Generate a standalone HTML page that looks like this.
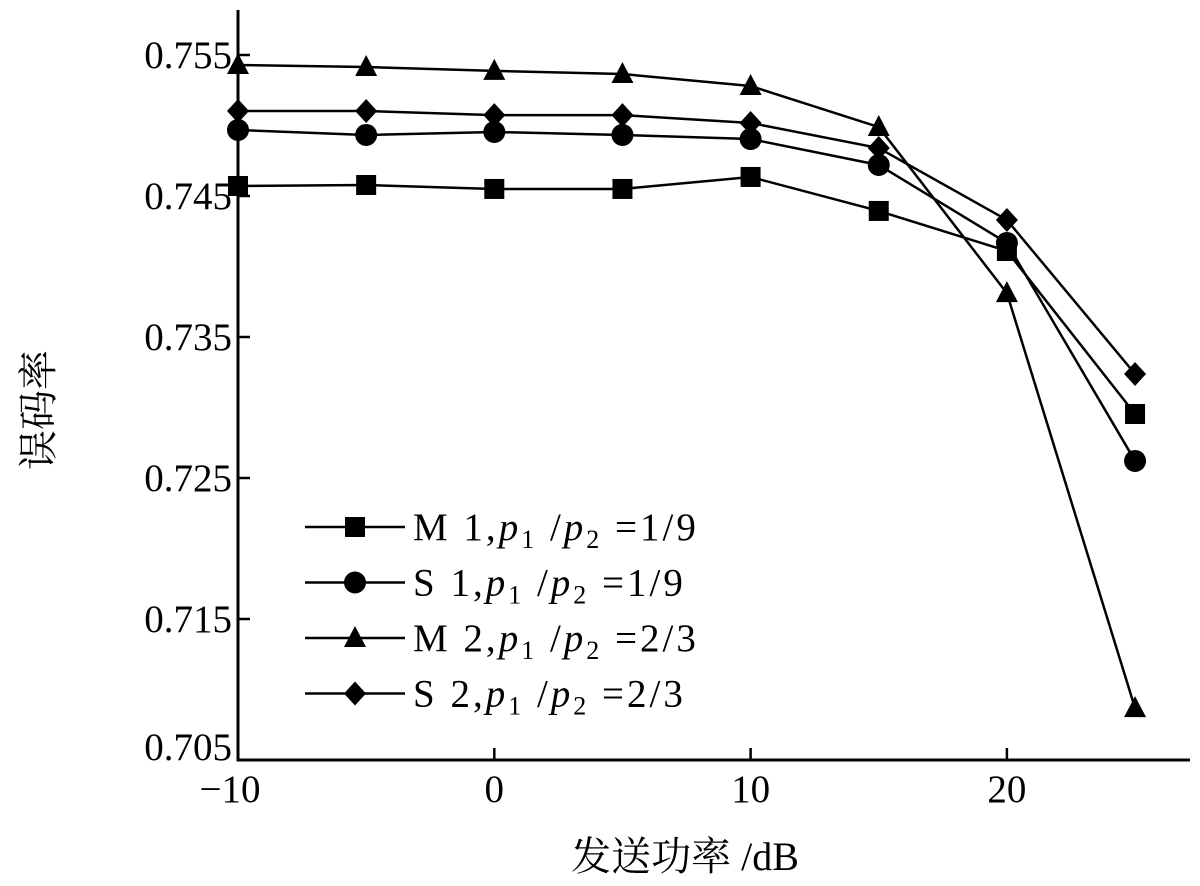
<!DOCTYPE html>
<html><head><meta charset="utf-8"><style>
html,body{margin:0;padding:0;background:#fff;}
svg{display:block;font-family:"Liberation Serif","Noto Serif CJK SC",serif;}
</style></head><body>
<svg id="chart" width="1200" height="886" viewBox="0 0 1200 886">
<g id="axes"></g>
<g id="series"></g>
<g id="legend"></g>
<text x="52" y="410" font-size="40" text-anchor="middle" transform="rotate(-90 52 410)" fill="#000" style="font-family:'Noto Serif CJK SC',serif">误码率</text>
<text x="685" y="870" font-size="40" text-anchor="middle" fill="#000">发送功率 /dB</text>
</svg>
<script>
const xValues=[-10,-5,0,5,10,15,20,25];
const m1=[0.74571,0.74578,0.74550,0.74550,0.74635,0.74394,0.74110,0.72954];
const s1=[0.74968,0.74933,0.74954,0.74933,0.74904,0.74720,0.74167,0.72621];
const m2=[0.75429,0.75415,0.75387,0.75365,0.75280,0.74989,0.73811,0.70868];
const s2=[0.75103,0.75103,0.75074,0.75074,0.75018,0.74840,0.74330,0.73238];
const xTicks=[-10,0,10,20];
const yTicks=[0.705,0.715,0.725,0.735,0.745,0.755];
const seriesNames=["M1","S1","M2","S2"];
const NS="http://www.w3.org/2000/svg";
function X(v){return 238+(v+10)*25.63;}
function Y(v){return 760-(v-0.705)*14100;}
function mk(tag,attrs,parent){const e=document.createElementNS(NS,tag);for(const k in attrs)e.setAttribute(k,attrs[k]);parent.appendChild(e);return e;}
const axes=document.getElementById('axes');
let a=mk('path',{d:'M238 10 V760 H1190',fill:'none',stroke:'#000','stroke-width':3},axes);


yTicks.forEach(t=>{
 const l=mk('line',{x1:238,x2:250,y1:Y(t),y2:Y(t),stroke:'#000','stroke-width':2.5},axes);
 
 
 const tx=mk('text',{x:232,y:Y(t)+(t<0.71?0:13),'font-size':39,'text-anchor':'end'},axes);
 tx.textContent=t.toFixed(3);
 
 
});
xTicks.forEach(t=>{
 const l=mk('line',{x1:X(t),x2:X(t),y1:760,y2:748,stroke:'#000','stroke-width':2.5},axes);
 
 
 const tx=mk('text',{x:X(t)-(t<0?8:0),y:802,'font-size':39,'text-anchor':'middle'},axes);
 tx.textContent=t<0?'\u2212'+Math.abs(t):String(t);
 
 
});
function marker(type,cx,cy,parent){
 let e;
 if(type==='M1')e=mk('rect',{x:cx-10,y:cy-10,width:20,height:20,fill:'#000'},parent);
 else if(type==='S1')e=mk('circle',{cx:cx,cy:cy,r:11,fill:'#000'},parent);
 else if(type==='M2')e=mk('polygon',{points:`${cx},${cy-12} ${cx+11},${cy+9} ${cx-11},${cy+9}`,fill:'#000'},parent);
 else e=mk('polygon',{points:`${cx},${cy-12} ${cx+11},${cy} ${cx},${cy+12} ${cx-11},${cy}`,fill:'#000'},parent);
 
 
}
const sg=document.getElementById('series');
[m1,s1,m2,s2].forEach((vals,i)=>{
 const name=seriesNames[i];
 const g=mk('g',{},sg);
 
 
 const p=mk('polyline',{points:vals.map((v,j)=>X(xValues[j])+','+Y(v)).join(' '),fill:'none',stroke:'#000','stroke-width':2.5},g);
 
 
 vals.forEach((v,j)=>marker(name,X(xValues[j]),Y(v),g));
});
const lg=document.getElementById('legend');
const labels=[['M','1','1/9'],['S','1','1/9'],['M','2','2/3'],['S','2','2/3']];
labels.forEach((lb,i)=>{
 const y=527+i*55.5;
 const g=mk('g',{},lg);
 
 
 mk('line',{x1:305,x2:405,y1:y,y2:y,stroke:'#000','stroke-width':2.5},g);
 marker(seriesNames[i],355,y,g);
 const t=mk('text',{x:413,y:y+13,'font-size':39,'letter-spacing':3},g);
 t.innerHTML=`${lb[0]} ${lb[1]},<tspan font-style="italic">p</tspan><tspan font-size="26" dy="8">1</tspan><tspan dy="-8"> /</tspan><tspan font-style="italic">p</tspan><tspan font-size="26" dy="8">2</tspan><tspan dy="-8"> =${lb[2]}</tspan>`;
});
</script>
</body></html>
